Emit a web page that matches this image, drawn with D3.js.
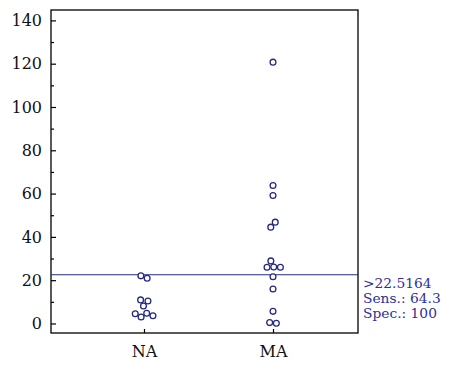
<!DOCTYPE html>
<html>
<head>
<meta charset="utf-8">
<script src="https://cdn.jsdelivr.net/npm/d3@7"></script>
<style>
  html, body { margin: 0; padding: 0; background: #fff; }
</style>
</head>
<body>
<svg id="chart" width="467" height="366"></svg>
<script>
// Group labels
const categories = ["NA", "MA"];
// Individual values per group
const naValues = [22.0, 20.9, 10.9, 10.4, 8.1, 4.7, 4.5, 3.6, 3.0];
const maValues = [120.7, 63.7, 59.1, 46.8, 44.5, 28.9, 26.0, 26.0, 26.1, 21.6, 15.9, 5.6, 0.1, 0.4];
// Cut-off and its diagnostic performance
const cutoff = 22.5164;
const cutoffLabels = [">22.5164", "Sens.: 64.3", "Spec.: 100"];
// Axis ticks
const yMajorTicks = [0, 20, 40, 60, 80, 100, 120, 140];
const yMinorTicks = [10, 30, 50, 70, 90, 110, 130];

const navy = "#27297c";
const serif = "DejaVu Serif";
const svg = d3.select("#chart");
const plot = { left: 51, right: 358, top: 10, bottom: 333 };

const y = d3.scaleLinear().domain([-4.4, 144.8]).range([plot.bottom, plot.top]);
const x = d3.scalePoint().domain(categories).range([144, 273]);

// Frame
svg.append("rect")
  .attr("x", plot.left).attr("y", plot.top)
  .attr("width", plot.right - plot.left).attr("height", plot.bottom - plot.top)
  .attr("fill", "none").attr("stroke", "#000").attr("stroke-width", 1.3);

// Y axis, ticks pointing into the plot
const yAxis = svg.append("g")
  .attr("transform", `translate(${plot.left},0)`)
  .call(d3.axisLeft(y).tickValues(yMajorTicks).tickSize(-5).tickPadding(9));
yAxis.attr("font-family", serif).attr("font-size", 16);
yAxis.select(".domain").remove();
yAxis.selectAll(".tick line").attr("stroke", "#000").attr("stroke-width", 1.2);
yAxis.selectAll(".tick text").attr("fill", "#111");

const yMinor = svg.append("g")
  .attr("transform", `translate(${plot.left},0)`)
  .call(d3.axisLeft(y).tickValues(yMinorTicks).tickSize(-3).tickFormat(""));
yMinor.select(".domain").remove();
yMinor.selectAll(".tick line").attr("stroke", "#000").attr("stroke-width", 1.2);

// X axis, ticks pointing into the plot
const xAxis = svg.append("g")
  .attr("transform", `translate(0,${plot.bottom})`)
  .call(d3.axisBottom(x).tickSize(-4).tickPadding(13));
xAxis.attr("font-family", serif).attr("font-size", 16);
xAxis.select(".domain").remove();
xAxis.selectAll(".tick line").attr("stroke", "#000").attr("stroke-width", 1.2);
xAxis.selectAll(".tick text").attr("fill", "#111");

// Cut-off line
svg.append("line")
  .attr("x1", plot.left).attr("x2", plot.right)
  .attr("y1", y(cutoff)).attr("y2", y(cutoff))
  .attr("stroke", navy).attr("stroke-width", 1.2);

// Dot positions: fixed vertically at the value, spread sideways to avoid overlap
const r = 2.9;
const nodes = [];
[naValues, maValues].forEach((vals, i) => {
  vals.forEach(v => nodes.push({ cat: categories[i], value: v, x: x(categories[i]), fy: y(v) }));
});
const sim = d3.forceSimulation(nodes)
  .force("x", d3.forceX(d => x(d.cat)).strength(0.08))
  .force("collide", d3.forceCollide(r + 0.45))
  .stop();
for (let i = 0; i < 300; i++) sim.tick();

svg.append("g").selectAll("circle")
  .data(nodes)
  .join("circle")
  .attr("cx", d => d.x)
  .attr("cy", d => y(d.value))
  .attr("r", r)
  .attr("fill", "#fff")
  .attr("stroke", navy)
  .attr("stroke-width", 1.3);

// Cut-off annotation
svg.append("g")
  .attr("font-family", serif)
  .attr("font-size", 13.8)
  .attr("fill", "#2e3192")
  .selectAll("text")
  .data(cutoffLabels)
  .join("text")
  .attr("x", 363)
  .attr("y", (d, i) => 288 + i * 15)
  .text(d => d);
</script>
</body>
</html>
